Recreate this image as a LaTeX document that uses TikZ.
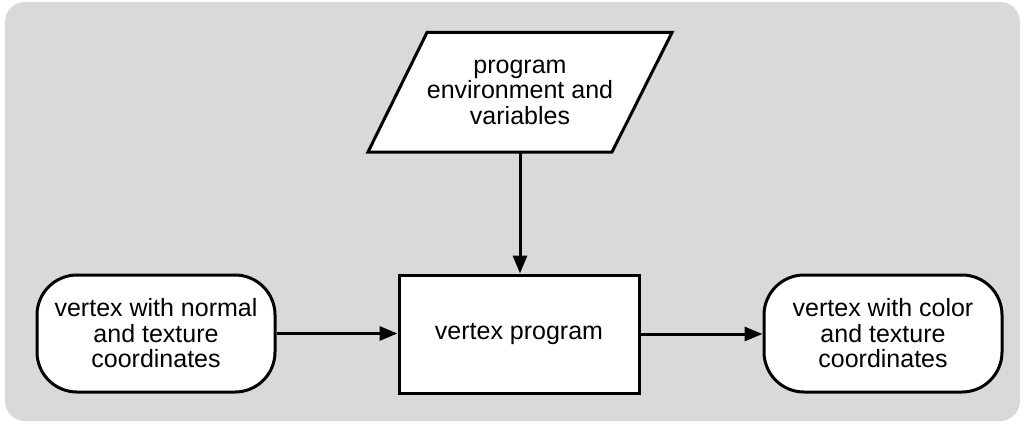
\documentclass[tikz,border=0pt]{standalone}
\usepackage{fontspec}
\setmainfont{Liberation Sans}
\usetikzlibrary{arrows.meta}
\definecolor{panelgray}{HTML}{D9D9D9}
\begin{document}
\begin{tikzpicture}[x=1pt,y=-1pt,
  every node/.style={font=\fontsize{25}{25.5}\selectfont, align=center},
  outline/.style={draw=black, line width=3pt, fill=white},
  endbox/.style={outline, rounded corners=40pt, minimum width=238pt, minimum height=117pt, inner sep=0pt},
  procbox/.style={outline, minimum width=240pt, minimum height=118pt, inner sep=0pt},
  flow/.style={line width=3pt, -{Triangle[length=18pt,width=14pt]}}
]
\useasboundingbox (0,0) rectangle (1024,425);
% panel
\fill[panelgray, rounded corners=20pt] (5,2) rectangle (1020,421);

% input parallelogram
\draw[outline, line join=miter] (368,152) -- (427,32.5) -- (672,32.5) -- (612,152) -- cycle;
\node[inner sep=0pt, minimum width=245pt, minimum height=119.5pt] (env) at (520,92.25)
  {program\\environment and\\variables};

% main boxes
\node[procbox] (prog) at (519,334) {vertex program};
\node[endbox] (vin) at (156,333.5) {vertex with normal\\and texture\\coordinates};
\node[endbox] (vout) at (883,333.5) {vertex with color\\and texture\\coordinates};

% connectors
\draw[flow] (env.south) -- (prog.north -| env.south);
\draw[flow] (vin.east) -- (prog.west |- vin.east);
\draw[flow] (prog.east) -- (vout.west |- prog.east);
\end{tikzpicture}
\end{document}
